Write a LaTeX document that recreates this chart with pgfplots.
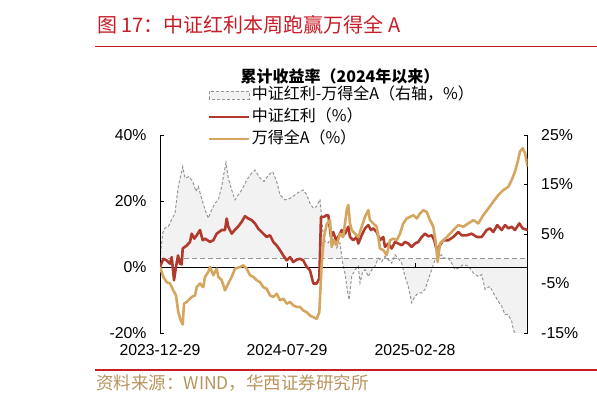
\documentclass[border=0pt]{standalone}
\usepackage{pgfplots}
\pgfplotsset{compat=1.18}
\usepackage{pgfplotstable}
\usepackage{fontspec}
\setmainfont{Liberation Sans}
\newfontfamily\cjk{Noto Sans CJK SC}
\definecolor{redline}{RGB}{178,58,44}
\definecolor{goldline}{RGB}{212,166,96}
\definecolor{dashgray}{RGB}{150,150,150}
\definecolor{fillgray}{RGB}{242,242,242}
\definecolor{titlered}{RGB}{200,28,38}
\definecolor{srccolor}{RGB}{184,148,92}

\pgfplotstableread{
x y
0 0
3.3 2.5
6.7 2
10 1
11.7 3
14 -4
16 0
18 3.5
20 1
21.7 0.8
22.7 5.6
26.7 6.5
30 7.6
31.7 10.1
34.3 8.6
36.7 9.6
40 11.2
42.7 8.1
45 8.6
50 7.6
53.3 8.1
56.7 10.1
61.7 11.2
65 11.2
66.7 14.7
68.3 12.2
71.7 10.1
75 11.3
78.3 12.3
81.7 13.7
85 15.4
88.3 14.7
91.7 14.2
95 13.2
98.3 11.6
103.3 10.1
106.7 9.1
110 9.6
113.3 7.6
116.7 6.5
120 5.1
123.3 3.5
126.7 2
130 3
133.3 1.5
136.7 2.2
140 2.5
143.3 2
146.7 0
150 -1
153.3 -5
156.7 -5
159.3 -3.5
161 15.2
164 15.2
166.7 15.7
168.3 15.7
171 9.1
173.3 10.6
176 8.1
178.3 9.1
181.7 11.2
185 10.1
188.3 12.2
190 9.1
193.3 8.1
196.7 9.1
198.3 7.1
201.7 9.6
205 11.7
208.3 12.7
211 11.2
213.3 11.7
216.7 10.6
220 8.1
223.3 9.1
225 6.1
228.3 7.1
231.7 5.6
235 7.6
238.3 7.1
241.7 6.6
245 7.6
248.3 7.1
251.7 6.1
255 7.1
258.3 7.6
261.7 9.1
265 10.1
268.3 9.3
271.7 9.6
274.3 8.1
276.7 5.1
280 6.6
283.3 8.1
288.3 8.1
293.3 9.1
298.3 10.6
301.7 9.6
306.7 9.6
311.7 10.1
316.7 9.1
321.7 9.1
326.7 11.2
330 11.7
333.3 10.6
337.3 12.7
341.7 11.2
345 12.7
348.3 11.7
351.7 12.2
355 11.2
359.3 13.2
362.7 11.7
367.7 11.2
}\redtab

\pgfplotstableread{
x y
0 0
3.3 -3
6.7 -4.6
10 -5
13.3 -7.1
16 -8.6
18.3 -13.7
20.7 -16.2
22.7 -17.4
24 -11.1
26.7 -10.6
28.3 -10.1
31.7 -9.1
35 -8.6
36.7 -6.1
40 -5
43.3 -6.1
45 -3
48.3 -1.5
50 0
53.3 -2.5
56.7 -0.5
58.3 -3
61.7 -4
65 -7.1
68.3 -5
71.7 -3
75 -0.5
80 0
83.3 0.5
86.7 -0.5
90 -2.5
93.3 -3
96.7 -4
100 -4.6
103.3 -6.1
106.7 -6.6
110 -8.6
113.3 -9.1
116.7 -8.1
120 -10.1
123.3 -9.6
126.7 -11.1
130 -10.6
133.3 -11.6
136.7 -12.1
140 -12.1
143.3 -13.2
146.7 -13.7
150 -14.7
153.3 -15.2
156.7 -15.7
159.3 -13.7
161.7 1
164 9.1
166.7 13
170 14.2
171.7 6.1
174 8.1
176.7 6.6
180 10.1
183.3 9.1
186.7 17.2
188.3 18.8
190 13.2
191.7 11.2
195 10.1
198.3 9.1
201.7 12.2
205 15.2
208.3 17.2
210 14.2
213.3 13.2
216.7 12.2
220 5.6
223.3 5.1
226.7 3.6
230 8.1
233.3 8.6
236.7 8.1
240 10.1
243.3 13.2
246.7 14.7
250 15.2
253.3 15.7
256.7 14.7
260 16.2
263.3 17.2
266.7 16.7
270 14.2
273.3 12.2
275.7 7.6
277.7 1.5
280 7.1
283.3 8.1
286.7 9
290 10.1
295 11.7
298.3 12.7
303.3 12.2
308.3 13.2
313.3 14.2
318.3 13.2
323.3 15.7
328.3 17.7
333.3 19.8
338.3 21.8
343.3 23.3
348.3 24.3
351.7 26.4
355 28.9
357.7 31.9
360 35
362.7 36
365 34.5
367.7 30.4
}\goldtab

\pgfplotstableread{
x y
0 0
2.7 5.2
5 6.2
8.3 6.5
11.7 7.9
15 9.2
18.3 14.6
22.7 18.6
25 16.3
29.3 16.6
32.7 15.6
36 13.6
38.3 14.6
41 12.6
45 9.9
48.3 8.2
51.7 9.9
55 11.2
58.3 11.9
61.7 14.6
64 17.3
66 19.4
68.3 16.3
71.7 13.9
75 11.9
78.3 12.9
81.7 13.9
86.7 15.9
91.7 17.3
95 17.9
100 16.3
104 15.6
108.3 16.9
112.7 17.6
116.7 15.6
120 12.9
125 11.9
130 12.2
135 12.9
140 13.6
143.3 13.9
146.7 12.9
150 11.2
153.3 10.2
156.7 10.6
160 12
162.7 5.8
165 3.5
168.3 3.2
171.7 4.5
176.7 2.2
180 3.2
182.7 -0.9
185 -3
187.7 -6.9
189 -8.3
191.7 -3.6
195 -2.2
198.3 -1.5
200 -4.9
202.3 -2.9
205 -2.2
208.3 -3.6
211.7 -2.2
215 -1.5
218.3 0.1
221.7 -0.6
225 0.5
228.3 -0.2
231.7 -0.9
235 0.8
238.3 0.1
241.7 -0.9
245 -3.6
248.3 -5.6
251.7 -8.9
255 -7.6
258.3 -6.9
261.7 -6.9
265 -6.2
268.3 -4.2
271.7 -2.2
275 -0.2
278.3 0.5
281.7 0.8
284.3 0.1
288.3 0.1
291.7 -0.9
295 -2.2
298.3 -1.9
303.3 -1.2
308.3 -1.5
313.3 -2.9
318.3 -3.6
321.7 -3.2
325 -6.2
330 -5.6
333.3 -6.9
338.3 -8.6
341.7 -9.6
345 -11.3
348.3 -11.3
351.7 -12.6
353.3 -14.3
355 -15.2
358 -16
362 -16.5
367.7 -16.8
}\difftab

\pgfplotsset{
  base/.style={
    at={(160pt,70pt)}, anchor=south west,
    width=367.7pt, height=198pt, scale only axis,
    xmin=0, xmax=367.7,
    separate axis lines,
    x axis line style={draw=none},
    y axis line style={black, line width=0.8pt},
    tick align=inside, major tick length=4pt,
    tick style={black, line width=0.8pt},
    ticklabel style={font=\fontsize{15.8}{16}\selectfont},
  }
}

\begin{document}
\begin{tikzpicture}
\useasboundingbox (0pt,0pt) rectangle (597pt,403pt);

% right axis: relative return with shaded area
\begin{axis}[base,
  ymin=-15, ymax=25,
  xtick=\empty,
  ytick={-15,-5,5,15,25},
  yticklabels={-15\%,-5\%,5\%,15\%,25\%},
  ytick pos=right, yticklabel pos=right,
  yticklabel style={xshift=10pt},
]
\addplot[fill=fillgray, draw=none] table[x=x,y=y]{\difftab} \closedcycle;
\addplot[dashgray, dash pattern=on 3pt off 2pt, line width=1pt] table[x=x,y=y]{\difftab};
\addplot[dashgray, dash pattern=on 5pt off 3pt, line width=1pt] coordinates {(0,0) (367.7,0)};
\end{axis}

% left axis: cumulative returns
\begin{axis}[base,
  ymin=-20, ymax=40,
  ytick={-20,0,20,40},
  yticklabels={-20\%,0\%,20\%,40\%},
  ytick pos=left,
  yticklabel style={xshift=-10pt},
  xtick={0,127,255},
  xticklabels={2023-12-29,2024-07-29,2025-02-28},
  xtick pos=bottom,
  xtick style={draw=none},
  xticklabel style={yshift=-8pt},
  legend style={draw=none, fill=none, inner sep=0pt,
    at={(axis description cs:0.1305,1.245)}, anchor=north west,
    font=\cjk\fontsize{16}{16}\selectfont,
    row sep=5pt,
    nodes={inner xsep=1pt, inner ysep=1pt, text height=12pt, text depth=3pt, anchor=west}},
  legend cell align=left,
  legend image code/.code={\draw[#1] (0pt,0pt) -- (40pt,0pt);},
]
\addlegendimage{legend image code/.code={\draw[dashgray, dash pattern=on 3pt off 2pt, line width=0.8pt, fill=fillgray] (0pt,-4pt) rectangle (40pt,4pt);}}
\addlegendentry{中证红利-万得全A（右轴，\%）}
\draw[black, line width=0.8pt] (axis cs:0,0) -- (axis cs:367.7,0);
\draw[black, line width=0.8pt] (axis cs:127,0) -- ++(0pt,4pt);
\draw[black, line width=0.8pt] (axis cs:255,0) -- ++(0pt,4pt);
\addplot[redline, line width=2.6pt, line join=round] table[x=x,y=y]{\redtab};
\addlegendentry{中证红利（\%）}
\addplot[goldline, line width=2.6pt, line join=round] table[x=x,y=y]{\goldtab};
\addlegendentry{万得全A（\%）}
\end{axis}

% title, rules, legend heading, source
\node[anchor=west, inner sep=0pt, text=titlered, font=\cjk\fontsize{20}{20}\selectfont] at (97pt,378pt) {图 17：中证红利本周跑赢万得全 A};
\draw[titlered, line width=1.6pt] (95pt,356.5pt) -- (597pt,356.5pt);
\node[inner sep=0pt, font=\cjk\bfseries\fontsize{16}{16}\selectfont] at (340pt,327pt) {累计收益率（2024年以来）};
\draw[titlered, line width=1.2pt] (95pt,33pt) -- (597pt,33pt);
\node[anchor=west, inner sep=0pt, text=srccolor, font=\cjk\fontsize{17.5}{17.5}\selectfont] at (96pt,20pt) {资料来源：WIND，华西证券研究所};
\end{tikzpicture}
\end{document}
